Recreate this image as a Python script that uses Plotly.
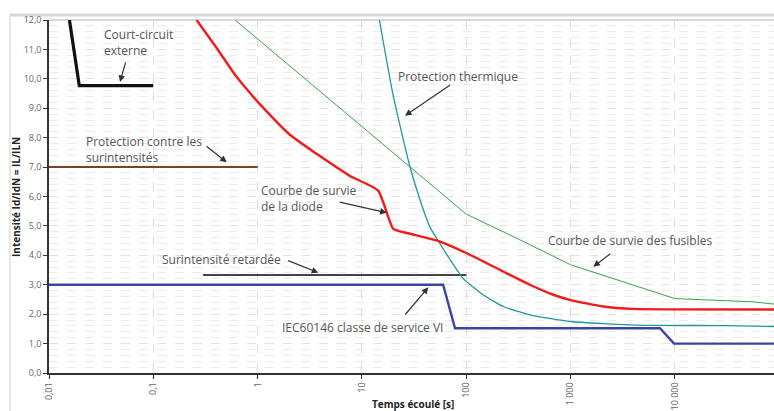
import plotly.graph_objects as go

# ---------------- data ----------------
court_t = [0.0157, 0.0195, 0.1]
court_i = [12.0, 9.77, 9.77]

prot_t = [0.01, 1]
prot_i = [7.0, 7.0]

retard_t = [0.3, 100]
retard_i = [3.33, 3.33]

iec_t = [0.01, 60, 78, 7200, 9800, 90000]
iec_i = [3.0, 3.0, 1.52, 1.52, 1.0, 1.0]

diode_t = [0.26, 0.405, 0.607, 0.845, 1.05, 2.04, 3.68, 7.67, 14.3, 20, 27, 56, 100, 226, 407, 683, 1000, 2056, 4000, 90000]
diode_i = [12.0, 11.05, 10.14, 9.52, 9.14, 8.1, 7.45, 6.7, 6.2, 4.9, 4.76, 4.47, 4.08, 3.45, 3.0, 2.66, 2.48, 2.26, 2.18, 2.16]

fus_t = [0.607, 100, 326, 1000, 10000, 56000, 90000]
fus_i = [12.0, 5.4, 4.53, 3.68, 2.53, 2.42, 2.34]

therm_t = [14.7, 20, 28.8, 36, 45, 56, 70, 94, 145, 226, 407, 1000, 4270, 31600, 90000]
therm_i = [12.0, 9.4, 7.02, 5.89, 4.95, 4.4, 3.85, 3.2, 2.66, 2.26, 1.98, 1.75, 1.63, 1.61, 1.58]

x_tickvals = [0.01, 0.1, 1, 10, 100, 1000, 10000]
x_ticktext = ["0,01", "0,1", "1", "10", "100", "1 000", "10 000"]

# ---------------- figure ----------------
W, H = 774, 411
L, T, R, B = 49, 20, 0, 38
pw, ph = W - L - R, H - T - B


def px(x):
    return (x - L) / pw


def py(y):
    return (H - B - y) / ph


fig = go.Figure()

series = [
    (court_t, court_i, "#111111", 3.2, "linear"),
    (prot_t, prot_i, "#7a4420", 2, "linear"),
    (retard_t, retard_i, "#444444", 2, "linear"),
    (fus_t, fus_i, "#3da24a", 1, "linear"),
    (therm_t, therm_i, "#1f9a9c", 1.3, "spline"),
    (iec_t, iec_i, "#3b45a0", 2.4, "linear"),
    (diode_t, diode_i, "#f01c1c", 2.4, "spline"),
]
for t, v, c, w, shp in series:
    line = dict(color=c, width=w, shape=shp)
    if shp == "spline":
        line["smoothing"] = 0.5
    fig.add_trace(go.Scatter(x=t, y=v, mode="lines", line=line,
                             hoverinfo="skip", showlegend=False, cliponaxis=True))

font_fam = "Open Sans, Noto Sans, sans-serif"
txt_col = "#555555"

labels = [
    ("Court-circuit<br>externe", 102, 42),
    ("Protection contre les<br>surintensités", 84, 149.5),
    ("Protection thermique", 396, 76),
    ("Courbe de survie<br>de la diode", 258.5, 199),
    ("Surintensité retardée", 159.5, 259.3),
    ("IEC60146 classe de service VI", 280, 327.7),
    ("Courbe de survie des fusibles", 545.5, 240.7),
]
annotations = []
for text, lx, ly in labels:
    annotations.append(dict(text=text, xref="paper", yref="paper", x=px(lx), y=py(ly),
                            xanchor="left", yanchor="middle", align="left", showarrow=False,
                            font=dict(family=font_fam, size=12, color=txt_col)))

arrows = [
    ((120, 82), (126, 61)),
    ((226.7, 162.3), (205, 145)),
    ((405, 115.7), (451.7, 84)),
    ((386.7, 212.7), (338.3, 201.7)),
    ((318.3, 272.7), (286.7, 260)),
    ((428.3, 287.3), (404, 316)),
    ((593.3, 266.7), (611.7, 252.7)),
]
for (hx, hy), (tx, ty) in arrows:
    annotations.append(dict(text="", xref="paper", yref="paper", x=px(hx), y=py(hy),
                            axref="pixel", ayref="pixel", ax=tx - hx, ay=ty - hy,
                            showarrow=True, arrowhead=2, arrowsize=1.1, arrowwidth=1.2,
                            arrowcolor="#333333", standoff=0))

# axis titles
annotations.append(dict(text="<b>Intensité Id/IdN = IL/ILN</b>", xref="paper", yref="paper",
                        x=px(16), y=py(197), textangle=-90, showarrow=False,
                        xanchor="center", yanchor="middle",
                        font=dict(family=font_fam, size=10, color="#222222")))
annotations.append(dict(text="<b>Temps écoulé [s]</b>", xref="paper", yref="paper",
                        x=px(413), y=py(403.5), showarrow=False,
                        xanchor="center", yanchor="middle",
                        font=dict(family=font_fam, size=10, color="#222222")))

shapes = [
    # card frame
    dict(type="line", xref="paper", yref="paper", x0=px(10), x1=1.02, y0=py(15), y1=py(15),
         line=dict(color="#d6d6d6", width=3), layer="below"),
    dict(type="line", xref="paper", yref="paper", x0=px(10), x1=px(10), y0=py(15), y1=py(415),
         line=dict(color="#e0e0e0", width=1.5), layer="below"),
    # top border of plot area
    dict(type="line", xref="paper", yref="paper", x0=0, x1=1, y0=1, y1=1,
         line=dict(color="#b0b0b0", width=1), layer="below"),
]

fig.update_layout(
    width=W, height=H,
    margin=dict(l=L, r=R, t=T, b=B, autoexpand=False),
    paper_bgcolor="white", plot_bgcolor="white",
    separators=", ",
    font=dict(family=font_fam, color="#666666"),
    annotations=annotations, shapes=shapes,
    showlegend=False,
)

fig.update_xaxes(
    type="log", range=[-2, 4.95],
    tickvals=x_tickvals, ticktext=x_ticktext, tickangle=-90,
    tickfont=dict(size=9, color="#666666"),
    showgrid=True, gridcolor="#dddddd", griddash="dash", gridwidth=1,
    showline=True, linecolor="#333333", linewidth=1.5,
    ticks="outside", ticklen=4, tickcolor="#333333",
    zeroline=False, automargin=False, fixedrange=True,
)
fig.update_yaxes(
    range=[0, 12], dtick=1, tick0=0, tickformat=".1f",
    tickfont=dict(size=9, color="#666666"),
    showgrid=True, gridcolor="#e2e2e2", griddash="dash", gridwidth=1,
    minor=dict(dtick=0.2, showgrid=True, gridcolor="#ebebeb", griddash="dash", ticks=""),
    showline=True, linecolor="#333333", linewidth=1.5,
    ticks="outside", ticklen=4, tickcolor="#333333",
    zeroline=False, automargin=False, fixedrange=True,
)

fig.write_html("out.html", config={"displayModeBar": False},
               post_script="document.body.style.margin='0px';document.body.style.overflow='hidden';")
